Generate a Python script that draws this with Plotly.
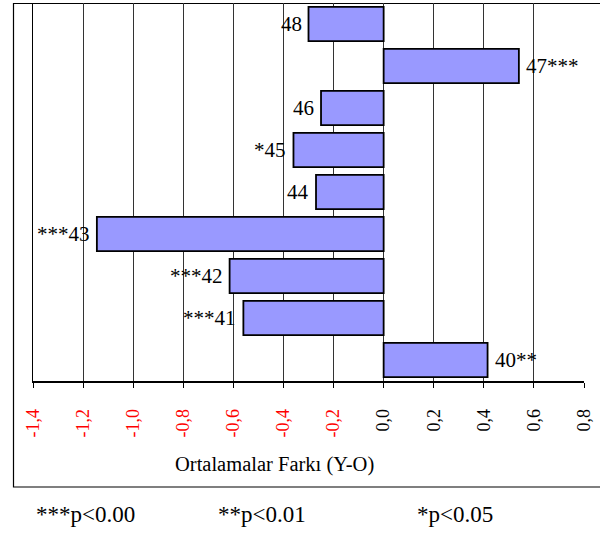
import plotly.graph_objects as go

# Data (top to bottom in the picture)
categories = ["48", "47", "46", "45", "44", "43", "42", "41", "40"]
values = [-0.30, 0.54, -0.25, -0.36, -0.27, -1.145, -0.615, -0.56, 0.415]
labels = ["48", "47***", "46", "*45", "44", "***43", "***42", "***41", "40**"]
tick_vals = [-1.4, -1.2, -1.0, -0.8, -0.6, -0.4, -0.2, 0.0, 0.2, 0.4, 0.6, 0.8]
tick_texts = ["-1,4", "-1,2", "-1,0", "-0,8", "-0,6", "-0,4", "-0,2", "0,0", "0,2", "0,4", "0,6", "0,8"]
footer = ["***p<0.00", "**p<0.01", "*p<0.05"]

W, H = 600, 535
ML, MR, MT, MB = 33, 16, 3, 154
PW = W - ML - MR
PH = H - MT - MB
FONT = "Liberation Serif"


def px_x(px):
    return (px - ML) / PW


def px_y(py):
    return (H - MB - py) / PH


# reverse order so the first category is at the top
cats_plot = categories[::-1]
vals_plot = values[::-1]
labs_plot = labels[::-1]

fig = go.Figure()
fig.add_trace(go.Bar(
    y=cats_plot, x=vals_plot, orientation="h",
    marker=dict(color="#9999FF", line=dict(color="black", width=1.8)),
    width=0.82, hoverinfo="skip",
))

annotations = []
for i, (c, v, t) in enumerate(zip(cats_plot, vals_plot, labs_plot)):
    annotations.append(dict(
        x=v, y=i, xref="x", yref="y", text=t, showarrow=False,
        xanchor="right" if v < 0 else "left",
        yanchor="middle",
        xshift=-5 if v < 0 else 5,
        font=dict(family=FONT, size=21, color="black"),
    ))

annotations.append(dict(
    x=px_x(274), y=px_y(464), xref="paper", yref="paper",
    text="Ortalamalar Farkı (Y-O)", showarrow=False,
    xanchor="center", yanchor="middle",
    font=dict(family=FONT, size=20.5, color="black"),
))
for t, cx in zip(footer, [85, 262, 455]):
    annotations.append(dict(
        x=px_x(cx), y=px_y(514), xref="paper", yref="paper",
        text=t, showarrow=False, xanchor="center", yanchor="middle",
        font=dict(family=FONT, size=23, color="black"),
    ))

colored_ticks = [
    f"<span style='color:red'>{t}</span>" if v < 0 else t
    for v, t in zip(tick_vals, tick_texts)
]

fig.update_layout(
    width=W, height=H,
    margin=dict(l=ML, r=MR, t=MT, b=MB, autoexpand=False),
    paper_bgcolor="white", plot_bgcolor="white",
    showlegend=False,
    bargap=0.18,
    annotations=annotations,
    shapes=[dict(
        type="rect", xref="paper", yref="paper",
        x0=px_x(13.5), x1=px_x(640), y0=px_y(487), y1=px_y(3.5),
        line=dict(color="black", width=1.2), fillcolor="rgba(0,0,0,0)",
        layer="below",
    )],
)

fig.update_xaxes(
    range=[-1.4, 0.8], tickvals=tick_vals, ticktext=colored_ticks,
    tickangle=-90, ticks="outside", ticklen=5, tickcolor="black",
    showline=True, linecolor="black", linewidth=1.5,
    showgrid=True, gridcolor="#333", gridwidth=1,
    zeroline=False, ticklabelstandoff=14,
    tickfont=dict(family=FONT, size=18, color="black"),
    automargin=False, fixedrange=True,
)
fig.update_yaxes(
    type="category", categoryorder="array", categoryarray=cats_plot,
    range=[-0.5, 8.5], showticklabels=False, ticks="",
    showline=True, linecolor="black", linewidth=1.2,
    showgrid=False, zeroline=False, automargin=False, fixedrange=True,
)

fig.write_html("out.html")
